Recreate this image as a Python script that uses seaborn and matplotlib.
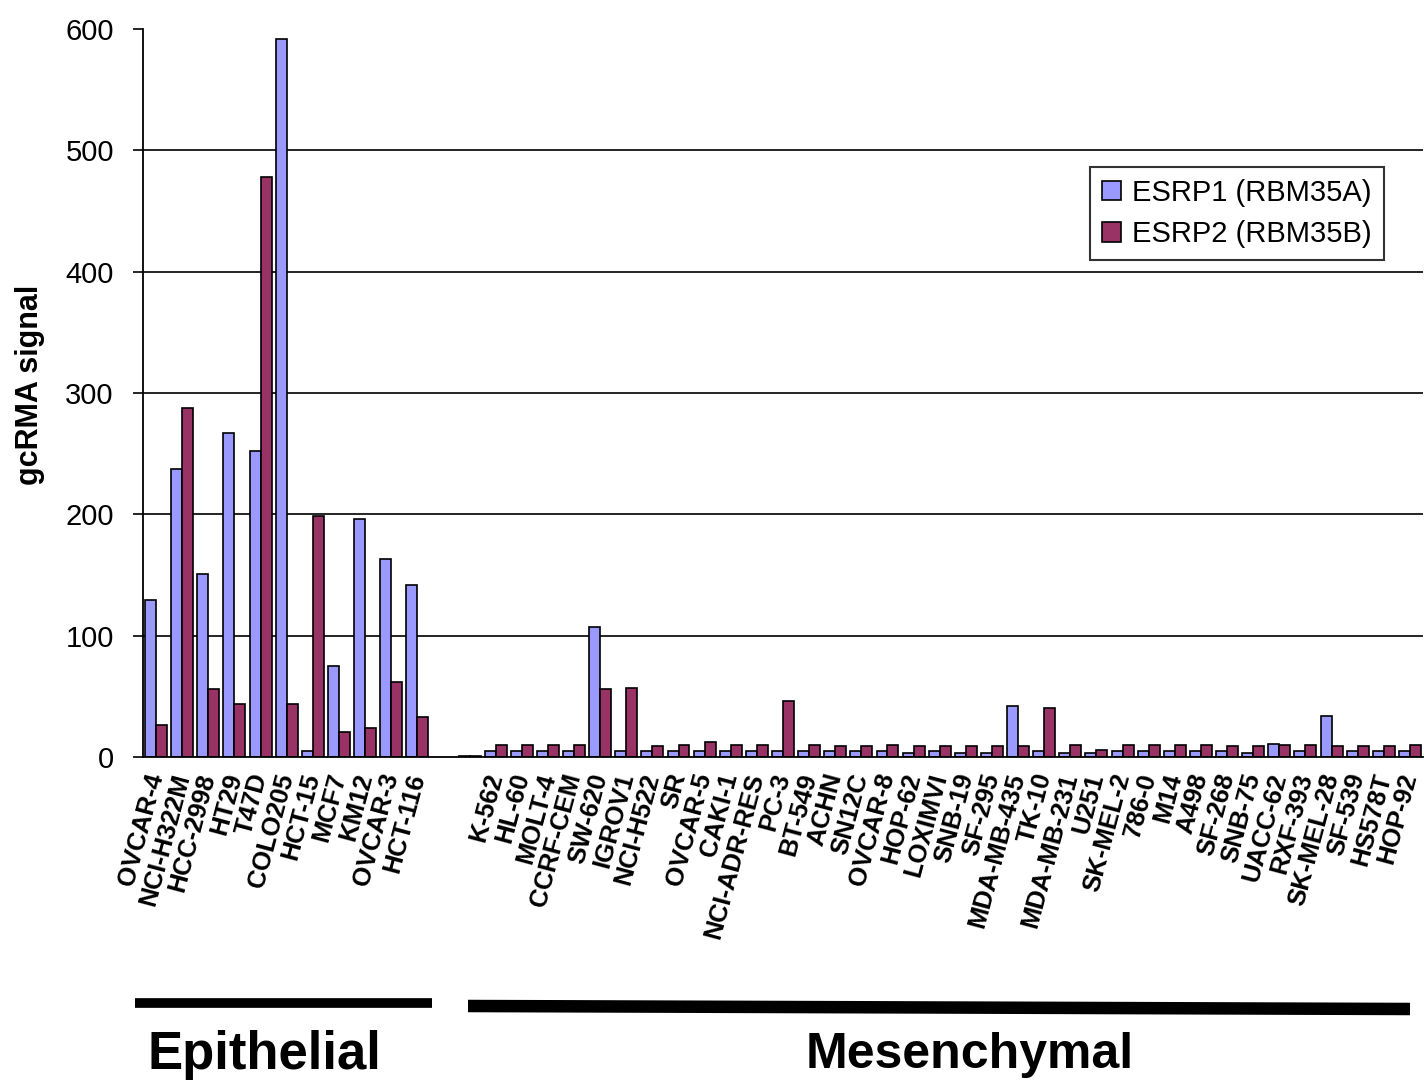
import numpy as np
import pandas as pd
import matplotlib
matplotlib.use("Agg")
import matplotlib.pyplot as plt
from matplotlib.lines import Line2D
import seaborn as sns

# ---------------- data ----------------
epi_cells = ["OVCAR-4", "NCI-H322M", "HCC-2998", "HT29", "T47D", "COLO205",
             "HCT-15", "MCF7", "KM12", "OVCAR-3", "HCT-116"]
esrp1_epi = [129, 237, 151, 267, 252, 592, 5, 75, 196, 163, 142]
esrp2_epi = [26, 288, 56, 44, 478, 44, 199, 21, 24, 62, 33]

mes_cells = ["K-562", "HL-60", "MOLT-4", "CCRF-CEM", "SW-620", "IGROV1",
             "NCI-H522", "SR", "OVCAR-5", "CAKI-1", "NCI-ADR-RES", "PC-3",
             "BT-549", "ACHN", "SN12C", "OVCAR-8", "HOP-62", "LOXIMVI",
             "SNB-19", "SF-295", "MDA-MB-435", "TK-10", "MDA-MB-231", "U251",
             "SK-MEL-2", "786-0", "M14", "A498", "SF-268", "SNB-75",
             "UACC-62", "RXF-393", "SK-MEL-28", "SF-539", "HS578T", "HOP-92"]
esrp1_mes = [5, 5, 5, 5, 107, 5, 5, 5, 5, 5, 5, 5,
             5, 5, 5, 5, 3.5, 5, 3.5, 3.5, 42, 5, 3.5, 3.5,
             5, 5, 5, 5, 5, 3.5, 11, 5, 33.5, 5, 5, 5]
esrp2_mes = [10, 10, 10, 10, 56, 57, 9, 10, 12, 10, 10, 46,
             10, 9, 9, 10, 9, 9, 9, 9, 9, 40, 10, 6,
             10, 10, 10, 10, 9, 9, 10, 10, 9, 9, 9, 10]

# spacer slot and an unlabeled near-zero slot between the two groups
gap_cells = ["", " "]
esrp1_gap = [np.nan, 1]
esrp2_gap = [np.nan, 1]

series_names = ["ESRP1 (RBM35A)", "ESRP2 (RBM35B)"]
colors = ["#9999FF", "#993366"]
group_labels = ["Epithelial", "Mesenchymal"]
y_ticks = [0, 100, 200, 300, 400, 500, 600]

cells = epi_cells + gap_cells + mes_cells
esrp1 = esrp1_epi + esrp1_gap + esrp1_mes
esrp2 = esrp2_epi + esrp2_gap + esrp2_mes
n = len(cells)

df = pd.DataFrame({
    "cell": cells * 2,
    "gene": [series_names[0]] * n + [series_names[1]] * n,
    "signal": esrp1 + esrp2,
})

# ---------------- figure ----------------
sns.set_theme(style="white")
plt.rcParams["font.family"] = ["Liberation Sans", "DejaVu Sans"]
for key in ["text.color", "axes.labelcolor", "xtick.color", "ytick.color",
            "axes.edgecolor"]:
    plt.rcParams[key] = "black"

W, H = 1424, 1084
fig = plt.figure(figsize=(W / 100, H / 100), dpi=100)
ax = fig.add_axes([143 / W, 1 - 757 / H, 1280 / W, 728 / H])

sns.barplot(data=df, x="cell", y="signal", hue="gene", order=cells,
            hue_order=series_names, palette=colors, saturation=1,
            width=0.84, edgecolor="black", linewidth=1.2, errorbar=None,
            ax=ax)

ax.set_xlim(-0.5, n - 0.5)
ax.set_ylim(0, 600)
ax.set_yticks(y_ticks)
ax.set_axisbelow(True)
for yv in y_ticks[1:-1]:
    ax.axhline(yv, color="black", lw=1.2, zorder=0.5)

for side in ["top", "right"]:
    ax.spines[side].set_visible(False)
for side in ["left", "bottom"]:
    ax.spines[side].set_color("black")
    ax.spines[side].set_linewidth(1.3)

# x tick labels
ax.set_xticks(range(n))
ax.set_xticklabels(cells, rotation=75, ha="right", rotation_mode="anchor",
                   fontsize=18.5, fontweight="bold")
for t in ax.get_xticklabels():
    t.set_va("center")
ax.tick_params(axis="x", which="major", length=0, pad=12)
ax.set_xticks(np.arange(-0.5, n, 1), minor=True)
ax.tick_params(axis="x", which="minor", length=7, width=1.2,
               color="black", direction="out")

ax.tick_params(axis="y", length=7, width=1.2, color="black",
               direction="out", labelsize=21, pad=14, left=True)
ax.set_xlabel("")
ax.set_ylabel("gcRMA signal", fontsize=22, fontweight="bold")
ax.yaxis.set_label_coords(-0.0766, 0.511)

leg = ax.legend(loc="upper left", bbox_to_anchor=(0.74, 0.81),
                frameon=True, fancybox=False, fontsize=21,
                handlelength=0.65, handleheight=0.65, borderpad=0.4,
                labelspacing=0.45, handletextpad=0.4, borderaxespad=0)
leg.get_frame().set_edgecolor("black")
leg.get_frame().set_linewidth(1.5)
leg.get_frame().set_facecolor("white")
leg.set_title(None)

# group brackets and labels below the axis
fig.add_artist(Line2D([135 / W, 432 / W], [1 - 1003 / H] * 2,
                      lw=7, color="black", solid_capstyle="butt"))
fig.add_artist(Line2D([468 / W, 1410 / W], [1 - 1006 / H, 1 - 1009 / H],
                      lw=9, color="black", solid_capstyle="butt"))
fig.text(264 / W, 1 - 1055 / H, group_labels[0], fontsize=38,
         fontweight="bold", ha="center", va="center")
fig.text(970 / W, 1 - 1055 / H, group_labels[1], fontsize=36,
         fontweight="bold", ha="center", va="center")

fig.savefig("out.png", dpi=100)
